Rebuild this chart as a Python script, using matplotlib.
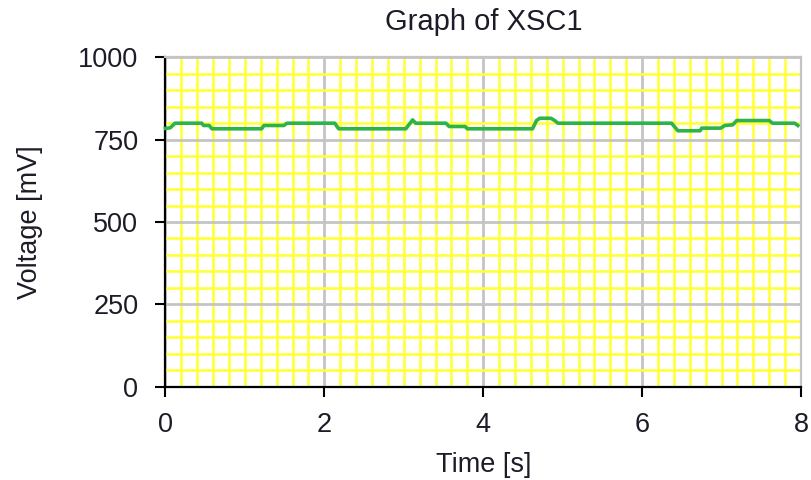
import matplotlib
matplotlib.use('Agg')
import matplotlib.pyplot as plt
from matplotlib.ticker import MultipleLocator

plt.rcParams['font.family'] = ['Liberation Sans', 'DejaVu Sans']

# scope trace (time in s, voltage in mV)
time_s = [0.0, 0.06, 0.12, 0.455, 0.48, 0.55, 0.585, 1.21, 1.24, 1.49, 1.53,
          2.13, 2.18, 3.025, 3.08, 3.11, 3.15, 3.53, 3.57, 3.77, 3.80,
          4.62, 4.67, 4.71, 4.85, 4.90, 4.94, 6.37, 6.45, 6.73, 6.75,
          6.99, 7.04, 7.14, 7.19, 7.60, 7.64, 7.92, 7.96]
voltage_mv = [784, 786, 800, 800, 793, 793, 783, 783, 793, 793, 800,
              800, 783, 783, 800, 810, 800, 800, 790, 790, 783,
              783, 808, 815, 815, 808, 800, 800, 777, 777, 785,
              785, 793, 795, 808, 808, 800, 800, 793]

xticks = [0, 2, 4, 6, 8]
yticks = [0, 250, 500, 750, 1000]

txt = '#1c1c28'

fig = plt.figure(figsize=(8.12, 4.8), dpi=100)
ax = fig.add_axes([0.2038, 0.1944, 0.7827, 0.6862])

ax.plot(time_s, voltage_mv, color='#2db34a', lw=2.6, zorder=5, clip_on=False)

ax.set_xlim(0, 8)
ax.set_ylim(0, 1000)
ax.set_xticks(xticks)
ax.set_yticks(yticks)
ax.xaxis.set_minor_locator(MultipleLocator(0.2))
ax.yaxis.set_minor_locator(MultipleLocator(50))

ax.grid(True, which='minor', color='#ffff3c', lw=1.9)
ax.grid(True, which='major', color='#c4c4c4', lw=2.0)
ax.set_axisbelow(True)

ax.tick_params(which='major', direction='out', length=7.5, width=1.5,
               color='black', labelsize=19.5, labelcolor=txt)
ax.tick_params(axis='y', pad=12)
ax.tick_params(axis='x', pad=11)
ax.tick_params(which='minor', length=0)

for s in ['left', 'bottom']:
    ax.spines[s].set_color('black')
    ax.spines[s].set_linewidth(1.6)
for s in ['top', 'right']:
    ax.spines[s].set_color('#c4c4c4')
    ax.spines[s].set_linewidth(1.6)

ax.set_title('Graph of XSC1', fontsize=21, color=txt, pad=20)
ax.set_xlabel('Time [s]', fontsize=19.5, color=txt, labelpad=10)
ax.set_ylabel('Voltage [mV]', fontsize=19.5, color=txt, labelpad=25)

fig.savefig('out.png', dpi=100)
